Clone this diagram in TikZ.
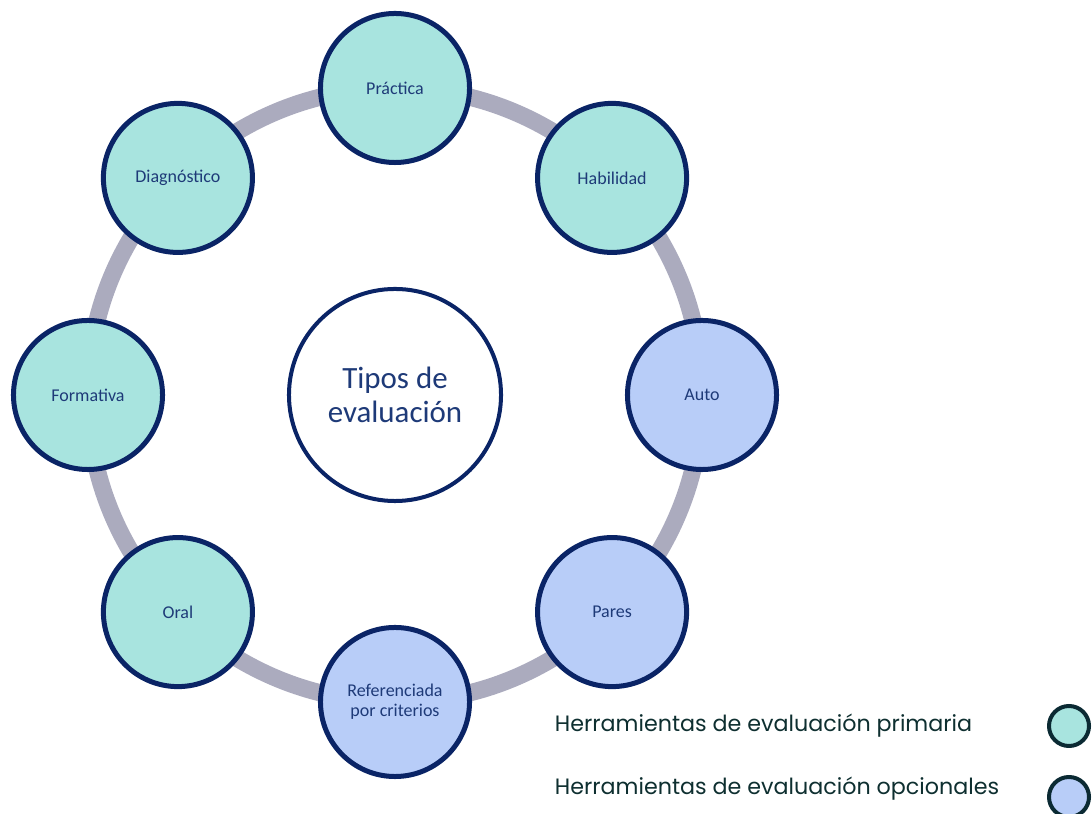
\documentclass[tikz,border=0pt]{standalone}
\usepackage{fontspec}
\setmainfont{Carlito}
\newfontfamily\legendfont{Poppins}
\usepackage{tikz}
\definecolor{tealfill}{HTML}{A8E4DF}
\definecolor{lavfill}{HTML}{B8CDF8}
\definecolor{navy}{HTML}{0A2466}
\definecolor{navytext}{HTML}{1E3A78}
\definecolor{ringgray}{HTML}{ABABBE}
\definecolor{legendtext}{HTML}{0E2F30}
\definecolor{legendline}{HTML}{0B2A33}
\tikzset{
  every picture/.style={line join=round, line cap=round},
  ring/.style={draw=ringgray, line width=0.43cm},
  tool/.style={circle, draw=navy, line width=0.125cm, minimum size=3.725cm, inner sep=0pt,
    align=center, text=navytext, font=\fontsize{12.8}{14}\selectfont},
  primary/.style={tool, fill=tealfill},
  optional/.style={tool, fill=lavfill},
  hub/.style={circle, draw=navy, line width=0.1cm, fill=white, minimum size=5.3cm, inner sep=0pt,
    align=center, text=navytext, font=\fontsize{22}{24}\selectfont},
  keytext/.style={anchor=base west, text=legendtext, font=\legendfont\fontsize{15.8}{18}\selectfont},
  keydot/.style={circle, draw=legendline, line width=0.1cm, minimum size=1cm, inner sep=0pt},
}

\begin{document}
\begin{tikzpicture}[x=0.025cm,y=0.025cm]
\useasboundingbox (0,0) rectangle (1092,814);
\coordinate (cen) at (395,419);
\draw[ring] (cen) circle (307);
\node[hub] (tipos) at (cen) {Tipos de\\evaluación};
\foreach \ang/\name/\kind/\txt in {90/prac/primary/Práctica, 45/habil/primary/Habilidad,
  0/auto/optional/Auto, -45/pares/optional/Pares, -90/refer/optional/{Referenciada\\por criterios},
  -135/oral/primary/Oral, 180/form/primary/Formativa, 135/diag/primary/Diagnóstico}
  \node[\kind] (\name) at ([shift={(\ang:307)}]cen) {\txt};
\node[keytext] (keyprim) at (550,82) {Herramientas de evaluación primaria};
\node[keytext] (keyopt) at (550,19) {Herramientas de evaluación opcionales};
\node[keydot, fill=tealfill] (dotprim) at (1069,88) {};
\node[keydot, fill=lavfill] (dotopt) at (1069,17) {};
\end{tikzpicture}
\end{document}
